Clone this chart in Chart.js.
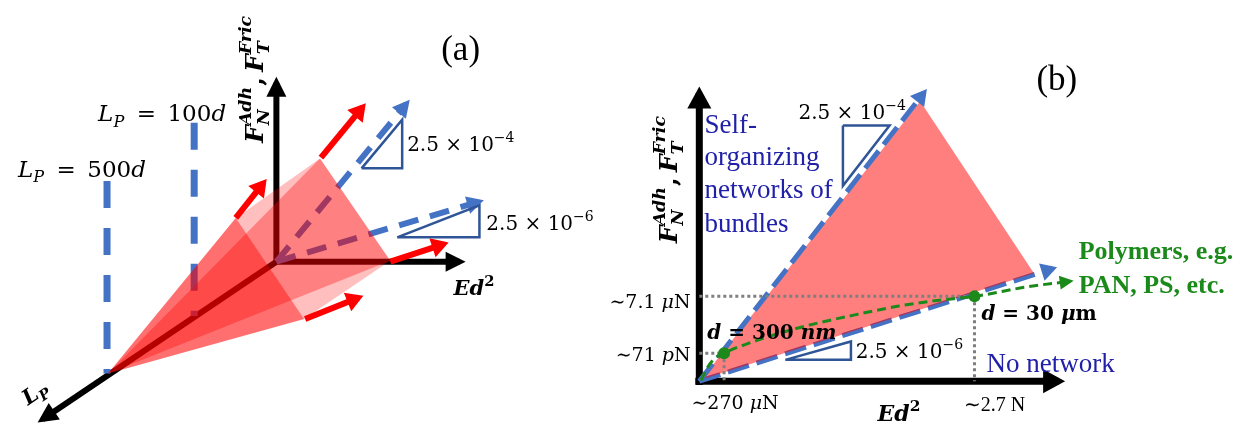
<!DOCTYPE html>
<html>
<head>
<meta charset="utf-8">
<script src="https://cdn.jsdelivr.net/npm/chart.js@4.4.1/dist/chart.umd.min.js"></script>
<style>
  html, body { margin: 0; padding: 0; background: #ffffff; }
  canvas { display: block; }
</style>
</head>
<body>
<canvas id="fig" width="1255" height="430"></canvas>
<script>
// ---------- Panel (a): projected 3-D sketch, units = projected length, origin where axes meet ----------
const aAxisForce = [[0, 0], [0, 184]];
const aAxisEd2   = [[0, 0], [185, 0]];
const aAxisLp    = [[0, 0], [-236, -162]];
const aLp500     = [[-171, 83], [-171, -115]];
const aLp100     = [[-83, 143], [-83, -56]];
const aSlopeHigh = [[0, 0], [131, 162]];
const aSlopeLow  = [[0, 0], [204, 61.5]];
const coneApex = [-170, -115];
const coneA = [-41, 45];
const coneB = [44, 106];
const coneC = [115, 1];
const coneD = [28, -59];
const growthArrows = [
  [coneA, [-13, 81]],
  [[45, 107], [87, 159]],
  [[115, 0], [169, 18]],
  [[29, -59], [83, -37]]
];
const aTriHigh = [[86, 96], [127, 96], [127, 146], [86, 96]];
const aTriLow  = [[122, 25], [205, 25], [205, 58], [122, 25]];

// ---------- Panel (b): force vs Ed^2, both axes 0..100 ----------
const bAxisForce = [[0, -1.3], [0, 98.5]];
const bAxisEd2   = [[-1.1, 0], [98.6, 0]];
const bSlopeHigh = [[0, 0], [61.7, 98.7]];
const bSlopeLow  = [[0, 0], [97.0, 38.5]];
const bRegion    = [[0.5, 0.5], [60.6, 95.7], [91.8, 36.9]];
const polymerEd2   = [0.5, 1.9, 3.8, 6.8, 13.6, 21.7, 32.6, 43.5, 54.3, 65.2, 75.5, 89.7, 101.9];
const polymerForce = [0.3, 4.0, 7.3, 9.6, 13.0, 16.3, 19.9, 22.9, 25.6, 27.6, 29.0, 32.2, 34.2];
const markedPoints = [[6.8, 9.6], [75.5, 29.0]];
const bTriHigh = [[39.4, 87.4], [52.2, 87.4], [39.4, 66.8], [39.4, 87.4]];
const bTriLow  = [[23.6, 7.3], [41.6, 7.3], [41.6, 13.6], [23.6, 7.3]];

const BLUE = '#4472C4', NAVY = '#2F5597', GREEN = '#1b8a1b', TEXTBLUE = '#2020a8';
const MATH = '"DejaVu Serif", serif';
const ROMAN = '"Liberation Serif", "Times New Roman", serif';

const datasets = [];
function add(points, panel, o) {
  datasets.push(Object.assign({
    data: points.map(([x, y]) => ({ x, y })),
    xAxisID: 'x' + panel, yAxisID: 'y' + panel,
    pointRadius: 0, pointHoverRadius: 0, borderWidth: 2,
    borderColor: '#000', backgroundColor: 'rgba(0,0,0,0)',
    fill: false, tension: 0, borderCapStyle: 'butt', borderJoinStyle: 'miter'
  }, o));
}
function polygon(points, panel, color) {
  add(points.concat([points[0]]), panel, { fill: 'shape', backgroundColor: color, borderColor: 'rgba(0,0,0,0)', borderWidth: 0.01 });
}

// panel (a)
const axisHead = { len: 20, half: 10 };
add(aAxisForce, 'a', { borderWidth: 6, head: axisHead });
add(aAxisEd2, 'a', { borderWidth: 6, head: axisHead });
add(aAxisLp, 'a', { borderWidth: 6, head: axisHead });
add(aLp500, 'a', { borderWidth: 7, borderColor: BLUE, borderDash: [27, 20] });
add(aLp100, 'a', { borderWidth: 7, borderColor: BLUE, borderDash: [27, 20] });
add(aSlopeHigh, 'a', { borderWidth: 6, borderColor: BLUE, borderDash: [20, 12], head: { len: 17, half: 9 } });
add(aSlopeLow, 'a', { borderWidth: 6, borderColor: BLUE, borderDash: [20, 12], head: { len: 17, half: 9 } });
polygon([coneA, coneB, coneC, coneD], 'a', 'rgba(255,0,0,0.14)');
polygon([coneApex, coneA, coneB], 'a', 'rgba(255,0,0,0.13)');
polygon([coneApex, coneB, coneC], 'a', 'rgba(255,0,0,0.42)');
polygon([coneApex, coneC, coneD], 'a', 'rgba(255,0,0,0.13)');
polygon([coneApex, coneD, coneA], 'a', 'rgba(255,0,0,0.5)');
growthArrows.forEach(seg => add(seg, 'a', { borderWidth: 6, borderColor: '#ff0000', head: { len: 17, half: 10 } }));
add(aTriHigh, 'a', { borderWidth: 2.5, borderColor: NAVY });
add(aTriLow, 'a', { borderWidth: 2.5, borderColor: NAVY });

// panel (b)
const bHead = { len: 22, half: 12 };
add(bAxisForce, 'b', { borderWidth: 7, head: bHead });
add(bAxisEd2, 'b', { borderWidth: 7, head: bHead });
add(bSlopeLow, 'b', { borderWidth: 5, borderColor: BLUE, borderDash: [22, 8], head: { len: 16, half: 9 } });
polygon(bRegion, 'b', 'rgba(255,0,0,0.5)');
add(bSlopeHigh, 'b', { borderWidth: 5, borderColor: BLUE, borderDash: [22, 8], head: { len: 16, half: 9 } });
markedPoints.forEach(([x, y]) => {
  add([[0, y], [x, y]], 'b', { borderWidth: 3, borderColor: '#7f7f7f', borderDash: [3, 3] });
  add([[x, y], [x, 0]], 'b', { borderWidth: 3, borderColor: '#7f7f7f', borderDash: [3, 3] });
});
add(polymerEd2.map((x, i) => [x, polymerForce[i]]), 'b', {
  borderWidth: 3, borderColor: GREEN, borderDash: [9, 5], cubicInterpolationMode: 'monotone',
  head: { len: 14, half: 7 }
});
add(markedPoints, 'b', { showLine: false, pointRadius: 6, pointBackgroundColor: GREEN, pointBorderWidth: 0 });
add(bTriHigh, 'b', { borderWidth: 2.5, borderColor: NAVY });
add(bTriLow, 'b', { borderWidth: 2.5, borderColor: NAVY });

datasets.forEach((d, i) => { d.order = datasets.length - i; });

// ---------- text labels ----------
const slope4 = [{ t: '2.5 × 10', s: 'n' }, { sup: '−4', s: 'n' }];
const slope6 = [{ t: '2.5 × 10', s: 'n' }, { sup: '−6', s: 'n' }];
const forceLabel = [{ t: 'F', s: 'bi' }, { sup: 'Adh', sub: 'N', s: 'bi' }, { t: ',\u2009', s: 'b' }, { t: 'F', s: 'bi' }, { sup: 'Fric', sub: 'T', s: 'bi' }];
const ed2Label = [{ t: 'Ed', s: 'bi' }, { sup: '2', s: 'b' }];
const lpLabel = n => [{ t: 'L', s: 'i' }, { sub: 'P', s: 'i' }, { t: '\u2002=\u2002' + n, s: 'n' }, { t: 'd', s: 'i' }];
const labels = [
  { p: 'a', at: [186, 220], size: 35, fam: ROMAN, align: 'center', runs: [{ t: '(a)', s: 'n' }] },
  { p: 'a', at: [-23, 188], size: 25, align: 'center', rot: -90, runs: forceLabel },
  { p: 'a', at: [-180, 153], size: 23, align: 'left', runs: lpLabel('100') },
  { p: 'a', at: [-261, 96], size: 23, align: 'left', runs: lpLabel('500') },
  { p: 'a', at: [132, 121], size: 20, align: 'left', runs: slope4 },
  { p: 'a', at: [212, 40], size: 20, align: 'left', runs: slope6 },
  { p: 'a', at: [200, -27], size: 21, align: 'center', runs: ed2Label },
  { p: 'a', at: [-244, -134], size: 21, align: 'center', rot: -34.5, runs: [{ t: 'L', s: 'bi' }, { sub: 'P', s: 'bi' }] },

  { p: 'b', at: [98.1, 103.7], size: 35, fam: ROMAN, align: 'center', runs: [{ t: '(b)', s: 'n' }] },
  { p: 'b', at: [-8.7, 69.1], size: 25, align: 'center', rot: -90, runs: forceLabel },
  { p: 'b', at: [1.4, 88.0], size: 27, fam: ROMAN, color: TEXTBLUE, align: 'left', runs: [{ t: 'Self-', s: 'n' }] },
  { p: 'b', at: [1.4, 77.1], size: 27, fam: ROMAN, color: TEXTBLUE, align: 'left', runs: [{ t: 'organizing', s: 'n' }] },
  { p: 'b', at: [1.4, 65.8], size: 27, fam: ROMAN, color: TEXTBLUE, align: 'left', runs: [{ t: 'networks of', s: 'n' }] },
  { p: 'b', at: [1.4, 54.2], size: 27, fam: ROMAN, color: TEXTBLUE, align: 'left', runs: [{ t: 'bundles', s: 'n' }] },
  { p: 'b', at: [27.2, 92.2], size: 20, align: 'left', runs: slope4 },
  { p: 'b', at: [42.9, 10.3], size: 20, align: 'left', runs: slope6 },
  { p: 'b', at: [-2.4, 27.2], size: 19, align: 'right', runs: [{ t: '∼7.1 ', s: 'n' }, { t: 'μ', s: 'i' }, { t: 'N', s: 'n' }] },
  { p: 'b', at: [-2.4, 9.3], size: 19, align: 'right', runs: [{ t: '∼71 ', s: 'n' }, { t: 'p', s: 'i' }, { t: 'N', s: 'n' }] },
  { p: 'b', at: [9.8, -7.0], size: 19, align: 'center', runs: [{ t: '∼270 ', s: 'n' }, { t: 'μ', s: 'i' }, { t: 'N', s: 'n' }] },
  { p: 'b', at: [81.0, -7.6], size: 20, fam: ROMAN, align: 'center', runs: [{ t: '∼2.7 N', s: 'n' }] },
  { p: 'b', at: [54.9, -11.0], size: 22, align: 'center', runs: ed2Label },
  { p: 'b', at: [2.2, 16.9], size: 20, align: 'left', runs: [{ t: 'd', s: 'bi' }, { t: ' = 300 ', s: 'b' }, { t: 'nm', s: 'bi' }] },
  { p: 'b', at: [77.4, 23.3], size: 20, align: 'left', runs: [{ t: 'd', s: 'bi' }, { t: ' = 30 ', s: 'b' }, { t: 'μ', s: 'bi' }, { t: 'm', s: 'b' }] },
  { p: 'b', at: [78.8, 6.6], size: 27, fam: ROMAN, color: TEXTBLUE, align: 'left', runs: [{ t: 'No network', s: 'n' }] },
  { p: 'b', at: [104.1, 44.9], size: 26, fam: ROMAN, color: GREEN, align: 'left', runs: [{ t: 'Polymers, e.g.', s: 'b' }] },
  { p: 'b', at: [104.1, 33.2], size: 26, fam: ROMAN, color: GREEN, align: 'left', runs: [{ t: 'PAN, PS, etc.', s: 'b' }] }
];

function fontOf(style, size, fam) {
  const pre = { n: '', i: 'italic ', b: 'bold ', bi: 'italic bold ' }[style] || '';
  return pre + size.toFixed(1) + 'px ' + fam;
}
function drawRuns(ctx, runs, size, fam, color, align) {
  const small = size * 0.7;
  let w = 0;
  const widths = runs.map(r => {
    let rw;
    if (r.sup !== undefined || r.sub !== undefined) {
      ctx.font = fontOf(r.s, small, fam);
      rw = Math.max(r.sup ? ctx.measureText(r.sup).width : 0, r.sub ? ctx.measureText(r.sub).width : 0) + 1;
    } else {
      ctx.font = fontOf(r.s, size, fam);
      rw = ctx.measureText(r.t).width;
    }
    w += rw;
    return rw;
  });
  let x = align === 'center' ? -w / 2 : align === 'right' ? -w : 0;
  const base = 0.36 * size;
  ctx.fillStyle = color;
  ctx.textAlign = 'left';
  ctx.textBaseline = 'alphabetic';
  runs.forEach((r, i) => {
    if (r.sup !== undefined || r.sub !== undefined) {
      ctx.font = fontOf(r.s, small, fam);
      if (r.sup) ctx.fillText(r.sup, x, base - 0.45 * size);
      if (r.sub) ctx.fillText(r.sub, x, base + 0.24 * size);
    } else {
      ctx.font = fontOf(r.s, size, fam);
      ctx.fillText(r.t, x, base);
    }
    x += widths[i];
  });
}

const arrowHeads = {
  id: 'arrowHeads',
  afterDatasetDraw(chart, args) {
    const d = chart.data.datasets[args.index];
    if (!d.head) return;
    const pts = args.meta.data;
    const p1 = pts[pts.length - 1], p0 = pts[pts.length - 2];
    const dx = p1.x - p0.x, dy = p1.y - p0.y, L = Math.hypot(dx, dy);
    const ux = dx / L, uy = dy / L;
    const { len, half } = d.head;
    const ext = (d.borderWidth / 2) * len / half;
    const tx = p1.x + ux * ext, ty = p1.y + uy * ext;
    const bx = tx - ux * len, by = ty - uy * len;
    const ctx = chart.ctx;
    ctx.save();
    ctx.fillStyle = d.borderColor;
    ctx.beginPath();
    ctx.moveTo(tx, ty);
    ctx.lineTo(bx - uy * half, by + ux * half);
    ctx.lineTo(bx + uy * half, by - ux * half);
    ctx.closePath();
    ctx.fill();
    ctx.restore();
  }
};

const textLabels = {
  id: 'textLabels',
  afterDatasetsDraw(chart) {
    const ctx = chart.ctx;
    labels.forEach(l => {
      const px = chart.scales['x' + l.p].getPixelForValue(l.at[0]);
      const py = chart.scales['y' + l.p].getPixelForValue(l.at[1]);
      ctx.save();
      ctx.translate(px, py);
      if (l.rot) ctx.rotate(l.rot * Math.PI / 180);
      drawRuns(ctx, l.runs, l.size, l.fam || MATH, l.color || '#000', l.align);
      ctx.restore();
    });
  }
};

// panel (a): 1 unit per pixel; panel (b): axes span 368 px and 301 px for 100 units
const W = 1255, H = 430;
const aOrigin = [273, 263];
const bOrigin = [700, 386], bSx = 3.68, bSy = 3.01;

new Chart(document.getElementById('fig'), {
  type: 'line',
  data: { datasets },
  options: {
    responsive: false,
    animation: false,
    devicePixelRatio: 1,
    events: [],
    layout: { padding: 0 },
    plugins: { legend: { display: false }, tooltip: { enabled: false }, title: { display: false } },
    scales: {
      xa: { type: 'linear', display: false, min: -aOrigin[0], max: W - aOrigin[0] },
      ya: { type: 'linear', display: false, min: -(H - aOrigin[1]), max: aOrigin[1] },
      xb: { type: 'linear', display: false, min: -bOrigin[0] / bSx, max: (W - bOrigin[0]) / bSx },
      yb: { type: 'linear', display: false, min: -(H - bOrigin[1]) / bSy, max: bOrigin[1] / bSy }
    }
  },
  plugins: [arrowHeads, textLabels]
});
</script>
</body>
</html>
